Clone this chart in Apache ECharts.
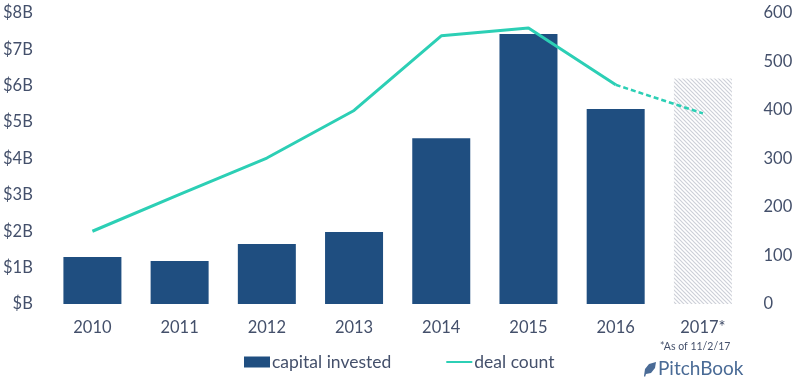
<!DOCTYPE html>
<html><head><meta charset="utf-8">
<style>html,body{margin:0;padding:0;background:#fff}#c{width:796px;height:385px}</style>
<script src="https://cdn.jsdelivr.net/npm/echarts@6/dist/echarts.min.js"></script>
</head><body><div id="c"></div>
<script>
const categories = ['2010','2011','2012','2013','2014','2015','2016','2017*'];
const capitalInvested = [1.29,1.18,1.65,1.98,4.56,7.42,5.36,null];
const capitalProjected = [null,null,null,null,null,null,null,6.2];
const dealCount = [150,226,301,399,553,569,452,null];
const dealCountProjected = [null,null,null,null,null,null,452,393];
const leftTicks = ['$B','$1B','$2B','$3B','$4B','$5B','$6B','$7B','$8B'];
const textColor = '#44506b', font = 'Lato';

const pat = document.createElement('canvas');
pat.width = 4; pat.height = 4;
const g = pat.getContext('2d');
g.fillStyle = '#fff'; g.fillRect(0,0,4,4);
g.strokeStyle = '#cdd0d8'; g.lineWidth = 1.2;
[[0,0,4,4],[-2,2,2,6],[2,-2,6,2]].forEach(s=>{g.beginPath();g.moveTo(s[0],s[1]);g.lineTo(s[2],s[3]);g.stroke();});

const chart = echarts.init(document.getElementById('c'), null, {renderer:'canvas'});
chart.setOption({
  animation:false,
  textStyle:{fontFamily:font,color:textColor},
  grid:{left:47.5,right:49.5,top:13,bottom:81},
  legend:{
    data:[{name:'capital invested',icon:'rect'},{name:'deal count',itemStyle:{opacity:0}}],
    left:239, top:348, itemGap:54, itemWidth:26, itemHeight:11,
    textStyle:{fontFamily:font,fontSize:17.5,color:textColor,padding:[0,0,0,-3]}
  },
  xAxis:{type:'category',data:categories,
    axisLine:{show:false},axisTick:{show:false},
    axisLabel:{color:textColor,fontFamily:font,fontSize:16.5,margin:15}},
  yAxis:[
    {type:'value',min:0,max:8,interval:1,splitLine:{show:false},axisLine:{show:false},axisTick:{show:false},
     axisLabel:{color:textColor,fontFamily:font,fontSize:16.5,margin:16,formatter:(v)=>leftTicks[v]}},
    {type:'value',min:0,max:600,interval:100,position:'right',splitLine:{show:false},axisLine:{show:false},axisTick:{show:false},
     axisLabel:{color:textColor,fontFamily:font,fontSize:16.5,margin:17,align:'left'}}
  ],
  series:[
    {name:'capital invested',type:'bar',data:capitalInvested,barWidth:58,barGap:'-100%',itemStyle:{color:'#1f4e80'}},
    {name:'projected',type:'bar',data:capitalProjected,barWidth:58,barGap:'-100%',itemStyle:{color:{image:pat,repeat:'repeat'}}},
    {name:'deal count',type:'line',yAxisIndex:1,data:dealCount,symbol:'none',z:5,lineStyle:{color:'#2ccfb5',width:3},itemStyle:{color:'#2ccfb5'}},
    {name:'deal projected',type:'line',yAxisIndex:1,data:dealCountProjected,symbol:'none',z:5,lineStyle:{color:'#2ccfb5',width:2.5,type:[5,3]}}
  ],
  graphic:[
    {type:'text',x:660,y:341,style:{text:'*As of 11/2/17',fill:textColor,font:'10.5px Lato'}},
    {type:'text',x:658,y:359,style:{text:'PitchBook',fill:'#4a6b96',font:'19px Lato'}},
    {type:'polygon',x:643,y:362,shape:{points:[[1,14],[2,7],[6,2],[13,0],[12,6],[8,11],[3,12],[2,15]]},style:{fill:'#4a6b96'}}
  ]
});
</script></body></html>
